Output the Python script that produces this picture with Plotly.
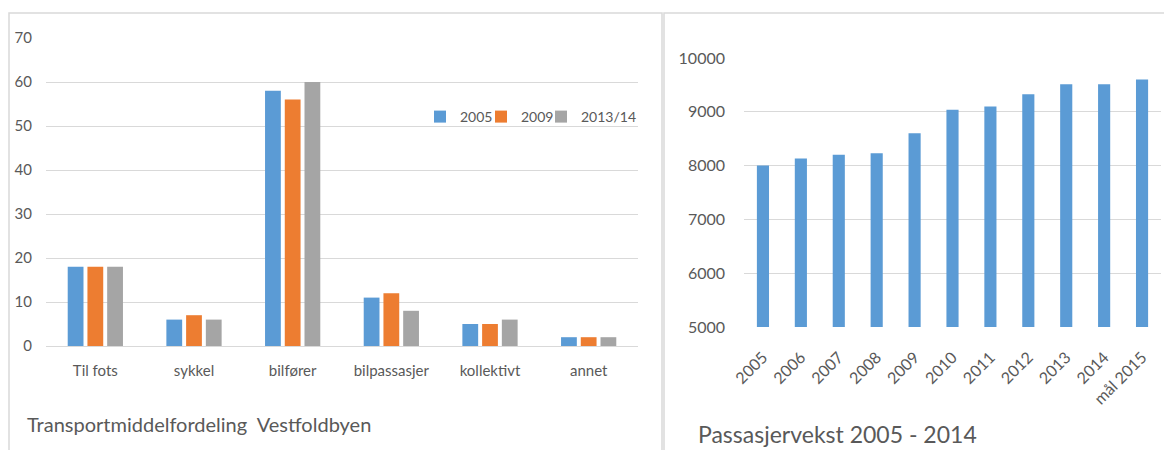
import plotly.graph_objects as go

# Left chart: transport mode share
modes = ['Til fots', 'sykkel', 'bilfører', 'bilpassasjer', 'kollektivt', 'annet']
share_2005 = [18, 6, 58, 11, 5, 2]
share_2009 = [18, 7, 56, 12, 5, 2]
share_2013 = [18, 6, 60, 8, 6, 2]

# Right chart: passenger growth
years = ['2005', '2006', '2007', '2008', '2009', '2010', '2011', '2012',
         '2013', '2014', 'mål 2015']
passengers = [8000, 8130, 8200, 8230, 8600, 9040, 9100, 9325, 9510, 9510, 9600]

BLUE = '#5B9BD5'
ORANGE = '#ED7D31'
GRAY = '#A5A5A5'
TEXT = '#595959'
GRID = '#D9D9D9'
FONT = 'Lato, Open Sans, sans-serif'

# the page puts the figure 8px in from the top-left corner
OFF = 8
W, H = 1172 - OFF, 450 - OFF


def px_x(x):
    return (x - OFF) / W


def px_y(y):
    return 1 - (y - OFF) / H


fig = go.Figure()

legend_font = dict(family=FONT, size=14, color=TEXT)
series = [('2005', share_2005, BLUE, 'legend', 433),
          ('2009', share_2009, ORANGE, 'legend2', 494),
          ('2013/14', share_2013, GRAY, 'legend3', 554)]

legends = {}
for name, vals, col, leg, marker_x in series:
    fig.add_trace(go.Bar(x=modes, y=vals, name=name, marker_color=col,
                         marker_line_width=0, xaxis='x', yaxis='y',
                         legend=leg))
    legends[leg] = dict(x=px_x(marker_x - 13), y=px_y(117),
                        xanchor='left', yanchor='middle',
                        font=legend_font, bgcolor='rgba(0,0,0,0)',
                        itemwidth=30)

fig.add_trace(go.Bar(x=years, y=passengers, marker_color=BLUE,
                     marker_line_width=0, xaxis='x2', yaxis='y2',
                     showlegend=False, width=0.32))

left_font = dict(family=FONT, size=15, color=TEXT)
right_font = dict(family=FONT, size=16, color=TEXT)

fig.update_layout(
    width=W, height=H,
    margin=dict(l=0, r=0, t=0, b=0, autoexpand=False),
    paper_bgcolor='white', plot_bgcolor='white',
    font=left_font,
    barmode='group', bargap=0.4, bargroupgap=0.2,
    xaxis=dict(domain=[px_x(46), px_x(638)], anchor='y', automargin=False,
               showgrid=False, showline=False, ticks='',
               tickfont=left_font, ticklabelstandoff=14),
    yaxis=dict(domain=[px_y(346), px_y(38)], anchor='x', range=[0, 70],
               automargin=False, dtick=10, showgrid=True, gridcolor=GRID,
               gridwidth=1, zeroline=True, zerolinecolor=GRID,
               zerolinewidth=1, showline=False, ticks='', tickfont=left_font,
               ticklabelstandoff=13),
    xaxis2=dict(domain=[px_x(744), px_x(1161)], anchor='y2', automargin=False,
                showgrid=False, showline=False, ticks='',
                tickangle=-45, tickfont=right_font, ticklabelstandoff=17),
    yaxis2=dict(domain=[px_y(327), px_y(58)], anchor='x2', automargin=False,
                range=[5000, 10000], dtick=1000, tickformat='d',
                showgrid=True, gridcolor=GRID, gridwidth=1,
                zeroline=False, showline=False, ticks='',
                tickfont=right_font, ticklabelstandoff=18),
    showlegend=True,
    shapes=[
        dict(type='rect', xref='paper', yref='paper',
             x0=px_x(9), x1=px_x(662), y0=-0.1, y1=px_y(13),
             line=dict(color=GRID, width=1.5), layer='below'),
        dict(type='rect', xref='paper', yref='paper',
             x0=px_x(664), x1=1.1, y0=-0.1, y1=px_y(13),
             line=dict(color=GRID, width=1.5), layer='below'),
    ],
    annotations=[
        dict(text='Transportmiddelfordeling  Vestfoldbyen', xref='paper',
             yref='paper', x=px_x(25), y=px_y(424), xanchor='left',
             yanchor='middle', showarrow=False,
             font=dict(family=FONT, size=20, color=TEXT)),
        dict(text='Passasjervekst 2005 - 2014', xref='paper',
             yref='paper', x=px_x(696), y=px_y(450), xanchor='left',
             yanchor='bottom', showarrow=False,
             font=dict(family=FONT, size=23, color=TEXT)),
    ],
    **legends,
)

fig.write_html('out.html')
